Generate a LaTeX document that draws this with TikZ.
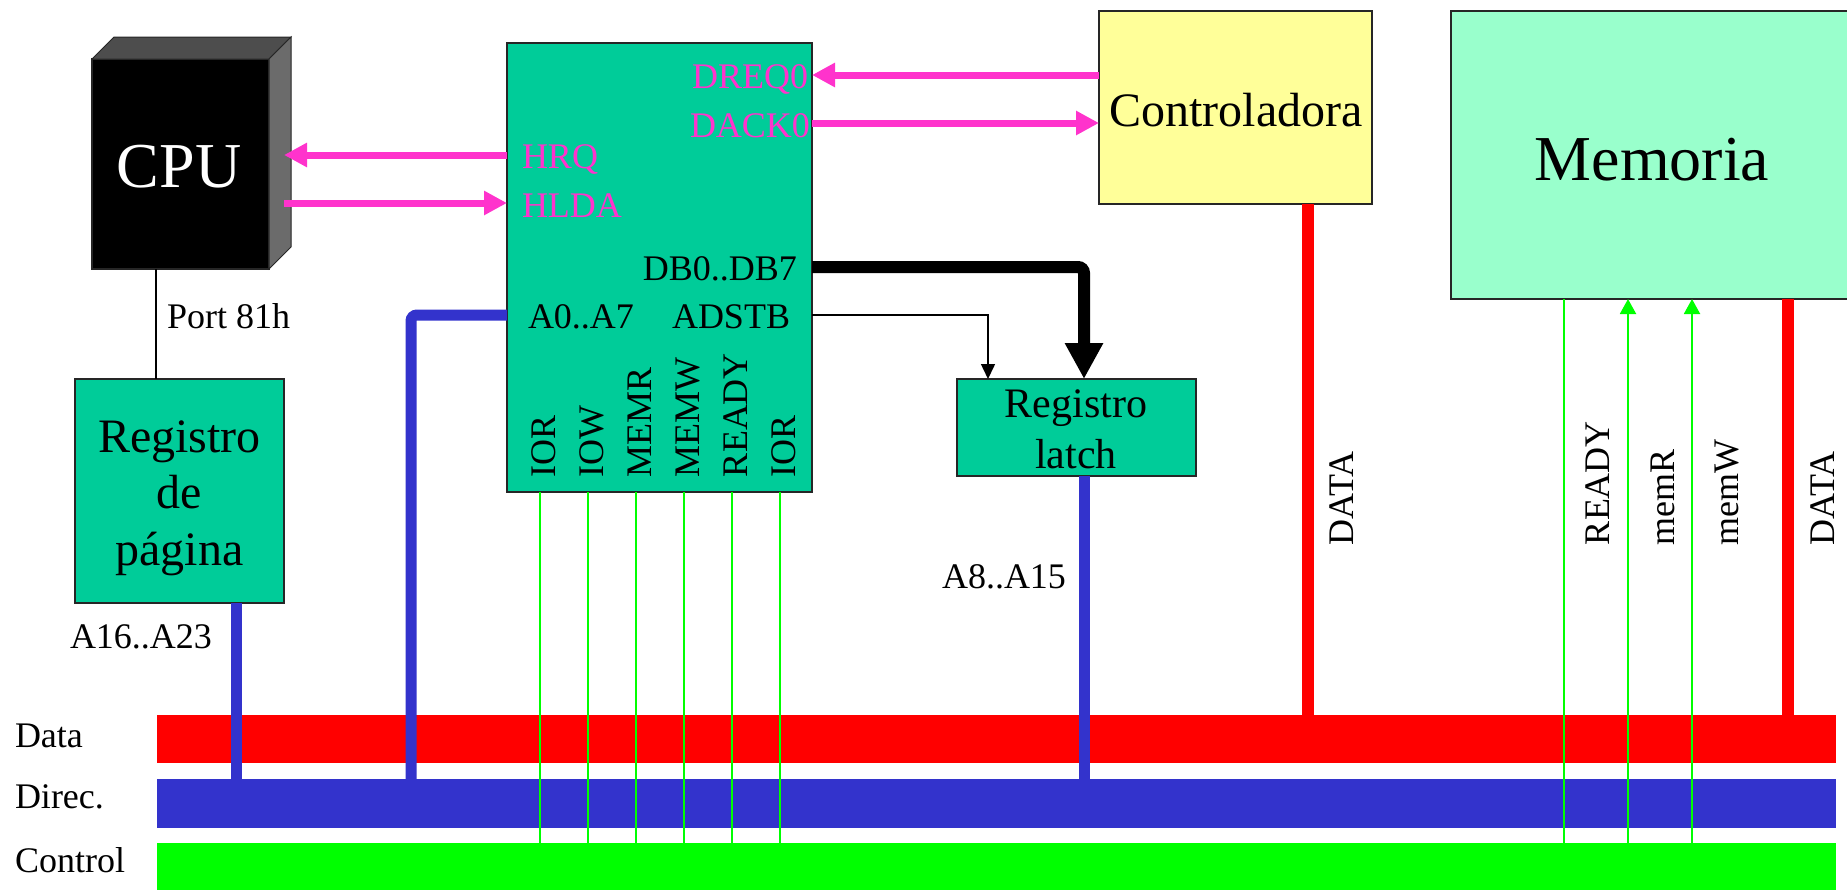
\documentclass[tikz,border=0pt]{standalone}
\usepackage{fontspec}
\setmainfont{Liberation Serif}
\usetikzlibrary{arrows.meta}
\definecolor{teal1}{HTML}{00CC99}
\definecolor{yel1}{HTML}{FFFF99}
\definecolor{mem1}{HTML}{99FFCC}
\definecolor{blu1}{HTML}{3333CC}
\definecolor{red1}{HTML}{FF0000}
\definecolor{grn1}{HTML}{00FF00}
\definecolor{pnk1}{HTML}{FF33CC}
\definecolor{edge1}{HTML}{262626}
\definecolor{cputop}{HTML}{4D4D4D}
\definecolor{cpuside}{HTML}{6B6B6B}
\begin{document}
\begin{tikzpicture}[x=1pt,y=-1pt,
  blk/.style={draw=edge1,line width=1.8pt,inner sep=0pt,outer sep=0pt,anchor=north west},
  busbar/.style={inner sep=0pt,outer sep=0pt,anchor=north west,minimum width=1679pt},
  f36/.style={font=\fontsize{36}{40}\selectfont,inner sep=0pt,outer sep=0pt},
  f48/.style={font=\fontsize{48}{54}\selectfont,inner sep=0pt,outer sep=0pt,anchor=base},
  f42/.style={font=\fontsize{42}{48}\selectfont,inner sep=0pt,outer sep=0pt,anchor=base},
  f64/.style={font=\fontsize{64}{70}\selectfont,inner sep=0pt,outer sep=0pt,anchor=base},
  vlbl/.style={f36,rotate=90,anchor=base west},
  pinkarrow/.style={draw=pnk1,line width=7pt,-{Triangle[length=23pt,width=23pt]}},
  bluewire/.style={draw=blu1,line width=11pt},
  redwire/.style={draw=red1,line width=12pt},
  greenwire/.style={draw=grn1,line width=2pt},
  greenarrow/.style={greenwire,-{Triangle[length=15pt,width=16pt]}},
]
\useasboundingbox (0,0) rectangle (1847,889);
\clip (0,0) rectangle (1847,889);

% buses
\node[busbar,fill=red1,minimum height=48pt] (dbus) at (157,715) {};
\node[busbar,fill=blu1,minimum height=49pt] (abus) at (157,779) {};
\node[busbar,fill=grn1,minimum height=50pt] (cbus) at (157,843) {};
\node[f36,anchor=base west] (ldata) at (15,747) {Data};
\node[f36,anchor=base west] (ldirec) at (15,808) {Direc.};
\node[f36,anchor=base west] (lcontrol) at (15,872) {Control};

% CPU
\node[blk,fill=black,minimum width=177pt,minimum height=210pt] (cpu) at (92,59) {};
\fill[cputop,draw=edge1,line width=1pt] (cpu.north west) -- ++(22,-22) -- ++(177,0) -- (cpu.north east) -- cycle;
\fill[cpuside,draw=edge1,line width=1pt] (cpu.north east) -- ++(22,-22) -- ++(0,210) -- (cpu.south east) -- cycle;
\node[f64,text=white] (cputxt) at (179,187) {CPU};

% Registro de pagina
\node[blk,fill=teal1,minimum width=209pt,minimum height=224pt] (regpag) at (75,379) {};
\node[f48] (rp1) at (179.5,452) {Registro};
\node[f48] (rp2) at (179.5,508) {de};
\node[f48] (rp3) at (179.5,565) {página};
\draw[line width=1.5pt] (cpu.south -| 156,0) -- (regpag.north -| 156,0);
\node[f36,anchor=base west] (port) at (167,328) {Port 81h};
\node[f36,anchor=base west] (a1623) at (70,648) {A16..A23};

% DMA controller
\node[blk,fill=teal1,minimum width=305pt,minimum height=449pt] (dma) at (507,43) {};
\node[f36,anchor=base east,text=pnk1] (dreq) at (808,88) {DREQ0};
\node[f36,anchor=base east,text=pnk1] (dack) at (810,137) {DACK0};
\node[f36,anchor=base west,text=pnk1] (hrq) at (522,168) {HRQ};
\node[f36,anchor=base west,text=pnk1] (hlda) at (522,217) {HLDA};
\node[f36,anchor=base east] (db) at (797,280) {DB0..DB7};
\node[f36,anchor=base west] (a07) at (528,328) {A0..A7};
\node[f36,anchor=base west] (adstb) at (672,328) {ADSTB};
\node[vlbl] (s1) at (555,477) {IOR};
\node[vlbl] (s2) at (603,477) {IOW};
\node[vlbl] (s3) at (651,477) {MEMR};
\node[vlbl] (s4) at (699,477) {MEMW};
\node[vlbl] (s5) at (747,477) {READY};
\node[vlbl] (s6) at (795,477) {IOR};

% Controladora and Memoria
\node[blk,fill=yel1,minimum width=273pt,minimum height=193pt] (ctrl) at (1099,11) {};
\node[f48] (ctrltxt) at (1236,126) {Controladora};
\node[blk,fill=mem1,minimum width=420pt,minimum height=288pt] (mem) at (1451,11) {};
\node[f64] (memtxt) at (1652,180) {Memoria};

% Registro latch
\node[blk,fill=teal1,minimum width=239pt,minimum height=97pt] (latch) at (957,379) {};
\node[f42] (rl1) at (1076,417) {Registro};
\node[f42] (rl2) at (1076,468) {latch};
\node[f36,anchor=base west] (a815) at (942,588) {A8..A15};

% pink handshake arrows
\draw[pinkarrow] (dma.west |- 0,155) -- ([xshift=15pt]cpu.east |- 0,155);
\draw[pinkarrow] ([xshift=15pt]cpu.east |- 0,203) -- (dma.west |- 0,203);
\draw[pinkarrow] (ctrl.west |- 0,75) -- (dma.east |- 0,75);
\draw[pinkarrow] (dma.east |- 0,123) -- (ctrl.west |- 0,123);

% data / strobe to latch
\draw[line width=12pt,rounded corners=6pt,-{Triangle[length=36pt,width=36pt]}] (dma.east |- 0,267) -| (latch.north -| 1084,0);
\draw[line width=1.5pt,-{Triangle[length=15pt,width=14pt]}] (dma.east |- 0,315) -| (latch.north -| 988,0);

% address wires
\draw[bluewire,rounded corners=6pt] (dma.west |- 0,315) -| (abus.north -| 411,0);
\draw[bluewire] (regpag.south -| 236,0) -- (abus.north -| 236,0);
\draw[bluewire] (latch.south -| 1084,0) -- (abus.north -| 1084,0);

% data wires
\draw[redwire] (ctrl.south -| 1308,0) -- (dbus.north -| 1308,0);
\draw[redwire] (mem.south -| 1788,0) -- (dbus.north -| 1788,0);
\node[vlbl] (ldata1) at (1353,545) {DATA};
\node[vlbl] (ldata2) at (1834,545) {DATA};

% control wires
\foreach \xx in {540,588,636,684,732,780}
  \draw[greenwire] (dma.south -| \xx,0) -- (cbus.north -| \xx,0);
\draw[greenwire] (mem.south -| 1564,0) -- (cbus.north -| 1564,0);
\draw[greenarrow] (cbus.north -| 1628,0) -- (mem.south -| 1628,0);
\draw[greenarrow] (cbus.north -| 1692,0) -- (mem.south -| 1692,0);
\node[vlbl] (lready) at (1609,545) {READY};
\node[vlbl] (lmemr) at (1674,545) {memR};
\node[vlbl] (lmemw) at (1738,545) {memW};
\end{tikzpicture}
\end{document}
